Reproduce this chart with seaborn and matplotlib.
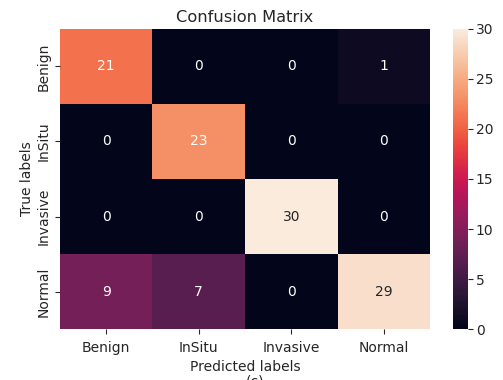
import numpy as np
import matplotlib
matplotlib.use("Agg")
import matplotlib.pyplot as plt
import seaborn as sns

classes = ["Benign", "InSitu", "Invasive", "Normal"]
row_benign = [21, 0, 0, 1]
row_insitu = [0, 23, 0, 0]
row_invasive = [0, 0, 30, 0]
row_normal = [9, 7, 0, 29]

cm = np.array([row_benign, row_insitu, row_invasive, row_normal])

plt.rcParams['font.family'] = ['DejaVu Sans']
fig = plt.figure(figsize=(5.03, 3.80), dpi=100)
ax = fig.add_axes([0.119, 0.134, 0.736, 0.790])
cax = fig.add_axes([0.9006, 0.134, 0.0298, 0.790])

sns.heatmap(cm, annot=True, fmt="d", ax=ax, cbar_ax=cax,
            xticklabels=classes, yticklabels=classes,
            annot_kws={"fontsize": 10})

ax.set_title("Confusion Matrix", fontsize=11.7, color="#262626", pad=5)
ax.set_xlabel("Predicted labels", fontsize=10, color="#262626", labelpad=4)
ax.set_ylabel("True labels", fontsize=10, color="#262626", labelpad=2)
ax.tick_params(axis="x", labelsize=10, colors="#262626", pad=5)
ax.tick_params(axis="y", labelsize=10, colors="#262626", pad=3)
cax.tick_params(labelsize=10, colors="#262626", pad=2)
cax.set_yticks([0, 5, 10, 15, 20, 25, 30])

fig.text(0.507, -0.004, "(c)", ha="center", va="center", fontsize=10, color="#262626")

fig.savefig("out.png", dpi=100)
